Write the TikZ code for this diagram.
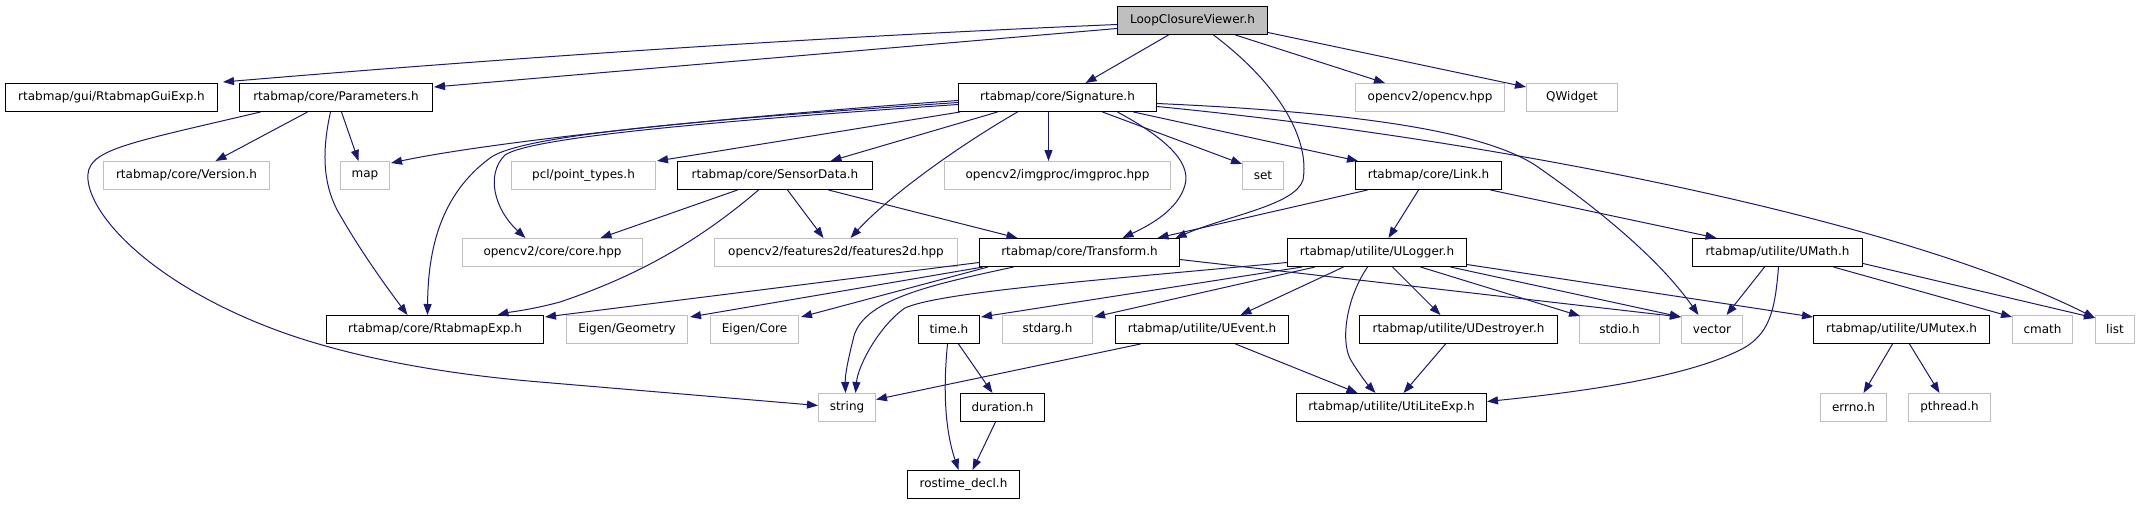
\documentclass[tikz,border=0pt]{standalone}
\usepackage{fontspec}
\setmainfont{DejaVu Sans}
\usetikzlibrary{arrows.meta}
\definecolor{edgec}{HTML}{191970}
\definecolor{graybd}{HTML}{BFBFBF}
\definecolor{lcvfill}{HTML}{BFBFBF}
\tikzset{
  nb/.style={line width=1pt, fill=white, inner sep=0pt, minimum height=28pt, anchor=north west, font=\fontsize{12}{14}\selectfont},
  bb/.style={nb, draw=black},
  gb/.style={nb, draw=graybd},
  e/.style={draw=edgec, line width=1pt, -{Triangle[length=11pt,width=8pt]}}
}
\begin{document}
\begin{tikzpicture}[x=1pt,y=-1pt]
\fill[white] (0,0) rectangle (2156,504);
\useasboundingbox (0,0) rectangle (2156,504);
% row 0
\node[bb, fill=lcvfill, minimum width=150pt] (lcv) at (1117,6) {LoopClosureViewer.h};
% row 1
\node[bb, minimum width=212pt] (gui) at (5,83) {rtabmap/gui/RtabmapGuiExp.h};
\node[bb, minimum width=193pt] (par) at (239,83) {rtabmap/core/Parameters.h};
\node[bb, minimum width=198pt] (sig) at (958,83) {rtabmap/core/Signature.h};
\node[gb, minimum width=149pt] (ocv) at (1355,83) {opencv2/opencv.hpp};
\node[gb, minimum width=91pt] (qw) at (1526,83) {QWidget};
% row 2
\node[gb, minimum width=166pt] (ver) at (103,161) {rtabmap/core/Version.h};
\node[gb, minimum width=49pt] (map) at (340,161) {map};
\node[gb, minimum width=144pt] (pcl) at (511,161) {pcl/point\_types.h};
\node[bb, minimum width=195pt] (sd) at (677,161) {rtabmap/core/SensorData.h};
\node[gb, minimum width=226pt] (imp) at (944,161) {opencv2/imgproc/imgproc.hpp};
\node[gb, minimum width=41pt] (set) at (1242,161) {set};
\node[bb, minimum width=146pt] (link) at (1355,161) {rtabmap/core/Link.h};
% row 3
\node[gb, minimum width=180pt] (core) at (462,238) {opencv2/core/core.hpp};
\node[gb, minimum width=243pt] (f2d) at (714,238) {opencv2/features2d/features2d.hpp};
\node[bb, minimum width=200pt] (tr) at (979,238) {rtabmap/core/Transform.h};
\node[bb, minimum width=179pt] (ulog) at (1287,238) {rtabmap/utilite/ULogger.h};
\node[bb, minimum width=170pt] (umath) at (1692,238) {rtabmap/utilite/UMath.h};
% row 4
\node[bb, minimum width=217pt] (rexp) at (326,315) {rtabmap/core/RtabmapExp.h};
\node[gb, minimum width=121pt] (egeo) at (566,315) {Eigen/Geometry};
\node[gb, minimum width=88pt] (ecore) at (710,315) {Eigen/Core};
\node[bb, minimum width=61pt] (time) at (918,315) {time.h};
\node[gb, minimum width=90pt] (starg) at (1002,315) {stdarg.h};
\node[bb, minimum width=173pt] (uev) at (1115,315) {rtabmap/utilite/UEvent.h};
\node[bb, minimum width=198pt] (udes) at (1359,315) {rtabmap/utilite/UDestroyer.h};
\node[gb, minimum width=80pt] (stdio) at (1579,315) {stdio.h};
\node[gb, minimum width=61pt] (vec) at (1681,315) {vector};
\node[bb, minimum width=176pt] (umut) at (1813,315) {rtabmap/utilite/UMutex.h};
\node[gb, minimum width=60pt] (cmath) at (2012,315) {cmath};
\node[gb, minimum width=39pt] (list) at (2095,315) {list};
% row 5
\node[gb, minimum width=57pt] (str) at (818,393) {string};
\node[bb, minimum width=84pt] (dur) at (960,393) {duration.h};
\node[bb, minimum width=190pt] (uexp) at (1296,393) {rtabmap/utilite/UtiLiteExp.h};
\node[gb, minimum width=66pt] (errno) at (1820,393) {errno.h};
\node[gb, minimum width=82pt] (pth) at (1908,393) {pthread.h};
% row 6
\node[bb, minimum width=112pt] (rost) at (907,470) {rostime\_decl.h};

% LoopClosureViewer.h
\draw[e] ([yshift=-4pt]lcv.west) .. controls (819,37) and (520,57) .. ([xshift=5pt,yshift=1pt]gui.north east);
\draw[e] ([yshift=-8pt]lcv.west) -- ([xshift=1pt,yshift=-4pt]par.north east);
\draw[e] ([xshift=-24pt]lcv.south) -- ([xshift=28pt]sig.north);
\draw[e] ([xshift=21pt]lcv.south) .. controls (1280,85) and (1310,140) .. (1303,180) .. controls (1295,205) and (1230,215) .. ([xshift=96pt]tr.north);
\draw[e] ([xshift=43pt]lcv.south) -- ([xshift=-45pt]ocv.north);
\draw[e] ([yshift=-12pt]lcv.east) -- ([yshift=-4pt]qw.north west);
% Parameters.h
\draw[e] ([xshift=-28.5pt]par.south) -- ([xshift=29pt]ver.north);
\draw[e] ([xshift=5.5pt]par.south) -- ([xshift=-6.5pt]map.north);
\draw[e] ([xshift=-5.5pt]par.south) .. controls (322,150) and (322,185) .. (340,215) .. controls (360,250) and (385,285) .. ([xshift=-27.5pt]rexp.north);
\draw[e] ([xshift=-75.5pt]par.south) .. controls (120,145) and (85,150) .. (88,180) .. controls (92,220) and (160,290) .. (290,335) .. controls (340,352) and (420,372) .. (540,382) -- ([yshift=2pt]str.west);
% Signature.h
\draw[e] ([yshift=-3pt]sig.west) .. controls (750,115) and (500,140) .. ([xshift=1pt,yshift=-2pt]map.north east);
\draw[e] ([yshift=-5pt]sig.west) .. controls (700,120) and (520,135) .. (490,158) .. controls (440,195) and (428,250) .. ([xshift=-7.5pt]rexp.north);
\draw[e] ([yshift=-7pt]sig.west) .. controls (700,122) and (530,138) .. (505,155) .. controls (485,175) and (495,210) .. ([xshift=-27pt]core.north);
\draw[e] ([xshift=2pt]sig.south west) -- ([xshift=1pt]pcl.north east);
\draw[e] ([xshift=-60pt]sig.south) -- ([xshift=55.5pt]sd.north);
\draw[e] ([xshift=-40pt]sig.south) .. controls (960,145) and (890,195) .. ([xshift=14.5pt]f2d.north);
\draw[e] ([xshift=-9pt]sig.south) -- ([xshift=-9pt]imp.north);
\draw[e] ([xshift=45pt]sig.south) -- ([yshift=-3pt]set.north west);
\draw[e] ([xshift=60pt]sig.south) .. controls (1160,135) and (1192,160) .. (1185,185) .. controls (1178,210) and (1150,225) .. ([xshift=43pt]tr.north);
\draw[e] ([xshift=76pt]sig.south) -- ([xshift=3pt]link.north west);
\draw[e] ([yshift=-6pt]sig.east) .. controls (1350,112) and (1480,130) .. (1535,165) .. controls (1600,210) and (1660,260) .. ([xshift=-13.5pt]vec.north);
\draw[e] ([yshift=-9pt]sig.east) .. controls (1500,140) and (1900,220) .. ([yshift=-3pt]list.north west);
% SensorData.h
\draw[e] ([xshift=-37.5pt]sd.south) -- ([xshift=48pt]core.north);
\draw[e] ([xshift=-16.5pt]sd.south) .. controls (700,240) and (640,275) .. (560,302) .. controls (530,310) and (510,312) .. ([xshift=62.5pt]rexp.north);
\draw[e] ([xshift=12.5pt]sd.south) -- ([xshift=-12.5pt]f2d.north);
\draw[e] ([xshift=53.5pt]sd.south) -- ([xshift=-62pt]tr.north);
% Link.h
\draw[e] ([xshift=-61pt]link.south) -- ([xshift=78pt]tr.north);
\draw[e] ([xshift=-10pt]link.south) -- ([xshift=11.5pt]ulog.north);
\draw[e] ([xshift=62pt]link.south) -- ([xshift=-61pt]umath.north);
% Transform.h
\draw[e] ([yshift=-10pt]tr.west) -- ([xshift=1pt,yshift=-2pt]rexp.north east);
\draw[e] ([xshift=4pt]tr.south west) -- ([xshift=2pt,yshift=-2pt]egeo.north east);
\draw[e] ([xshift=9pt]tr.south west) -- ([xshift=2pt,yshift=-2pt]ecore.north east);
\draw[e] ([xshift=-66pt]tr.south) .. controls (930,285) and (860,300) .. (853,340) .. controls (848,360) and (845,375) .. ([xshift=-1.5pt]str.north);
\draw[e] ([yshift=-7pt]tr.east) -- ([yshift=-2pt]vec.north west);
% ULogger.h
\draw[e] ([yshift=-10pt]ulog.west) .. controls (1100,280) and (940,292) .. (905,308) .. controls (880,325) and (858,365) .. ([xshift=8.5pt]str.north);
\draw[e] ([xshift=15pt]ulog.south west) -- ([xshift=1pt,yshift=-2pt]time.north east);
\draw[e] ([xshift=28pt]ulog.south west) -- ([xshift=1pt,yshift=-2pt]starg.north east);
\draw[e] ([xshift=-33.5pt]ulog.south) -- ([xshift=38.5pt]uev.north);
\draw[e] ([xshift=-9.5pt]ulog.south) .. controls (1345,300) and (1340,345) .. (1352,362) .. controls (1360,375) and (1368,385) .. ([xshift=-16pt]uexp.north);
\draw[e] ([xshift=15.5pt]ulog.south) -- ([xshift=-18pt]udes.north);
\draw[e] ([xshift=43.5pt]ulog.south) -- ([xshift=1pt,yshift=-1pt]stdio.north west);
\draw[e] ([xshift=73.5pt]ulog.south) -- ([yshift=-2pt]vec.north west);
\draw[e] ([yshift=-12pt]ulog.east) -- ([yshift=-2pt]umut.north west);
% UMath.h
\draw[e] ([xshift=-13pt]umath.south) -- ([xshift=14.5pt]vec.north);
\draw[e] ([xshift=1pt]umath.south) .. controls (1775,310) and (1770,335) .. (1740,350) .. controls (1690,375) and (1600,390) .. ([yshift=6pt]uexp.east);
\draw[e] ([xshift=56pt]umath.south) -- ([yshift=-2pt]cmath.north west);
\draw[e] ([yshift=-11pt]umath.east) -- ([yshift=-3pt]list.north west);
% UMutex.h
\draw[e] ([xshift=-9pt]umut.south) -- ([xshift=10pt]errno.north);
\draw[e] ([xshift=8pt]umut.south) -- ([xshift=-10pt]pth.north);
% UEvent.h, UDestroyer.h
\draw[e] ([xshift=-61.5pt]uev.south) -- ([yshift=8pt]str.east);
\draw[e] ([xshift=33.5pt]uev.south) -- ([xshift=-34pt]uexp.north);
\draw[e] ([xshift=-13pt]udes.south) -- ([xshift=12pt]uexp.north);
% time.h, duration.h
\draw[e] ([xshift=9.5pt]time.south) -- ([xshift=-10pt]dur.north);
\draw[e] ([xshift=-1.5pt]time.south) .. controls (943,390) and (945,430) .. ([xshift=-5pt]rost.north);
\draw[e] ([xshift=-7pt]dur.south) -- ([xshift=9pt]rost.north);
\end{tikzpicture}
\end{document}
